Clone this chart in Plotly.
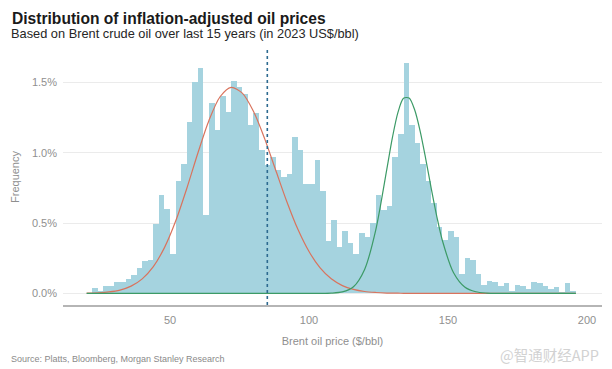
import plotly.graph_objects as go

# ---------------- data ----------------
BIN_WIDTH = 2
BIN_CENTERS = list(range(23, 197, 2))
FREQ_PCT = [
    0.04, 0.02, 0.05, 0.05, 0.08, 0.08, 0.10, 0.13, 0.18, 0.23,   # 23-41
    0.24, 0.49, 0.70, 0.60, 0.28, 0.80, 0.92, 1.22, 1.50, 1.60,   # 43-61
    0.56, 1.35, 1.16, 1.40, 1.29, 1.51, 1.47, 1.42, 1.20, 1.28,   # 63-81
    1.02, 0.91, 0.97, 0.88, 0.83, 0.85, 1.11, 1.02, 0.78, 0.78,   # 83-101
    0.95, 0.73, 0.37, 0.52, 0.33, 0.44, 0.36, 0.28, 0.43, 0.40,   # 103-121
    0.50, 0.70, 0.59, 0.62, 0.97, 1.13, 1.64, 1.20, 1.07, 0.92,   # 123-141
    0.80, 0.64, 0.47, 0.38, 0.44, 0.40, 0.14, 0.25, 0.24, 0.14,   # 143-161
    0.06, 0.09, 0.08, 0.05, 0.07, 0.02, 0.06, 0.05, 0.03, 0.08,   # 163-181
    0.07, 0.05, 0.03, 0.045, 0.01, 0.07, 0.02,                    # 183-195
]

CURVE_X = [20, 24, 28, 32, 36, 40, 44, 48, 52, 56, 60, 64, 68, 72, 76, 80,
           84, 88, 92, 96, 100, 104, 108, 112, 116, 120, 124, 128, 130, 132,
           134, 136, 138, 140, 142, 144, 146, 148, 152, 156, 160, 164, 168,
           172, 176, 180, 184, 188, 192, 196]
LOW_REGIME = [0.001, 0.004, 0.010, 0.023, 0.051, 0.103, 0.190, 0.325, 0.512,
              0.744, 0.996, 1.229, 1.398, 1.465, 1.424, 1.295, 1.102, 0.877,
              0.653, 0.455, 0.297, 0.181, 0.103, 0.055, 0.028, 0.013, 0.006,
              0.002, 0.001, 0.001, 0, 0, 0, 0, 0, 0, 0, 0, 0, 0, 0, 0, 0,
              0, 0, 0, 0, 0, 0, 0]
HIGH_REGIME = [0, 0, 0, 0, 0, 0, 0, 0, 0, 0, 0, 0, 0, 0, 0, 0, 0, 0, 0, 0,
               0, 0, 0.0015, 0.010, 0.047, 0.170, 0.450, 0.884, 1.107, 1.287,
               1.387, 1.389, 1.305, 1.152, 0.955, 0.743, 0.544, 0.374, 0.146,
               0.045, 0.011, 0.002, 0, 0, 0, 0, 0, 0, 0, 0]

MEAN_PRICE = 85
X_TICKS = [50, 100, 150, 200]
Y_TICKS = [0, 0.5, 1.0, 1.5]
Y_TICK_LABELS = ["0.0%", "0.5%", "1.0%", "1.5%"]

TITLE = "Distribution of inflation-adjusted oil prices"
SUBTITLE = "Based on Brent crude oil over last 15 years (in 2023 US$/bbl)"
SOURCE = "Source: Platts, Bloomberg, Morgan Stanley Research"
WATERMARK = "@智通财经APP"

# ---------------- figure ----------------
FONT = "Liberation Sans, Arial, sans-serif"
GREY = "#8f8f8f"

# the page body adds an 8px offset; size the figure to fill the rest
OFF = 8
W, H = 612 - OFF, 369 - OFF
L, R, T, B = 63 - OFF, 10, 49 - OFF, 64
pw, ph = W - L - R, H - T - B


def px_x(p):
    return (p - OFF - L) / pw


def px_y(p):
    return (H - B - (p - OFF)) / ph


fig = go.Figure()
fig.add_trace(go.Bar(
    x=BIN_CENTERS, y=FREQ_PCT, width=BIN_WIDTH,
    marker=dict(color="#a5d3df", line=dict(width=0)),
    hoverinfo="skip",
))
fig.add_trace(go.Scatter(
    x=CURVE_X, y=LOW_REGIME, mode="lines",
    line=dict(color="#d9735d", width=1.2, shape="spline", smoothing=0.8),
))
fig.add_trace(go.Scatter(
    x=CURVE_X, y=HIGH_REGIME, mode="lines",
    line=dict(color="#3c9a66", width=1.2, shape="spline", smoothing=0.8),
))

fig.add_shape(type="line", x0=MEAN_PRICE, x1=MEAN_PRICE, y0=0, y1=1,
              xref="x", yref="paper",
              line=dict(color="#2d6a90", width=1.6, dash="3px,3px"))

annos = [
    dict(text="<b>" + TITLE + "</b>", x=px_x(10), y=px_y(18), xanchor="left",
         yanchor="middle", font=dict(family=FONT, size=15.6, color="#1a1a1a")),
    dict(text=SUBTITLE, x=px_x(9), y=px_y(33), xanchor="left", yanchor="middle",
         font=dict(family=FONT, size=12.8, color="#262626")),
    dict(text=SOURCE, x=px_x(9), y=px_y(359), xanchor="left", yanchor="middle",
         font=dict(family=FONT, size=9, color="#8a8a8a")),
    dict(text=WATERMARK, x=px_x(601), y=px_y(354), xanchor="right", yanchor="middle",
         font=dict(family="Noto Sans CJK SC", size=14.5, color="#d2d2d2")),
]
for a in annos:
    a.update(xref="paper", yref="paper", showarrow=False)

fig.update_layout(
    width=W, height=H,
    margin=dict(l=L, r=R, t=T, b=B, pad=0, autoexpand=False),
    paper_bgcolor="white", plot_bgcolor="white",
    showlegend=False, bargap=0,
    font=dict(family=FONT, color=GREY),
    annotations=annos,
    xaxis=dict(
        range=[11.5, 205.4], tickvals=X_TICKS, showgrid=False, zeroline=False,
        showline=True, linecolor="#b5b5b5", linewidth=1.6, ticks="",
        ticklabelstandoff=4,
        tickfont=dict(family=FONT, size=11, color=GREY),
        title=dict(text="Brent oil price ($/bbl)", standoff=12,
                   font=dict(family=FONT, size=11, color=GREY)),
    ),
    yaxis=dict(
        range=[-0.083, 1.7375], tickvals=Y_TICKS, ticktext=Y_TICK_LABELS,
        showgrid=True, gridcolor="#ebebeb", gridwidth=1, zeroline=False,
        showline=False, ticks="", ticklabelstandoff=5,
        tickfont=dict(family=FONT, size=11, color=GREY),
        title=dict(text="Frequency", standoff=10,
                   font=dict(family=FONT, size=11, color=GREY)),
    ),
)

fig.write_html("out.html")
